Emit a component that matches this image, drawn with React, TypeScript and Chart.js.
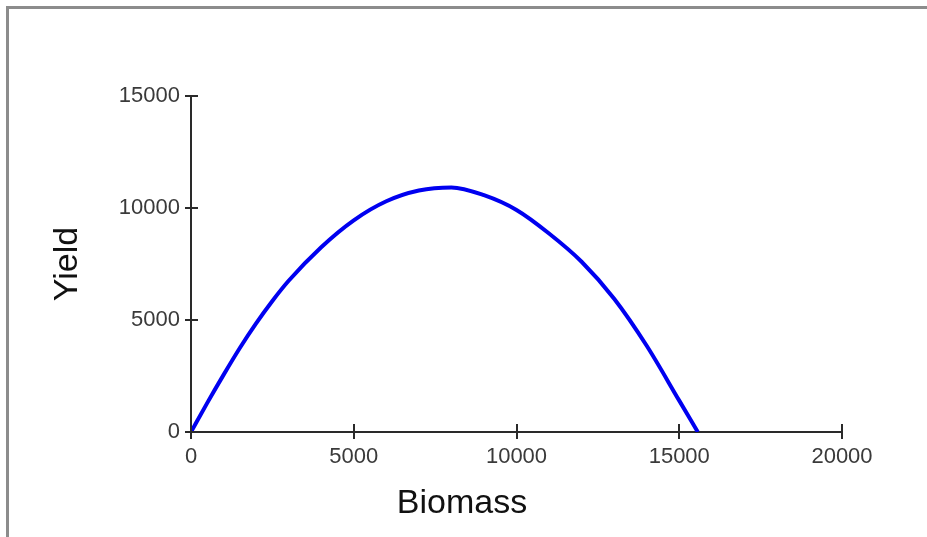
import React, { useEffect, useRef } from "react";
import { Chart, registerables } from "chart.js";

Chart.register(...registerables);

const biomass = [0, 500, 1000, 1500, 2000, 2500, 3000, 4000, 5000, 6000, 7000, 8000, 9000, 10000, 11000, 12000, 13000, 14000, 15000, 15570];
const yieldValues = [0, 1300, 2550, 3750, 4850, 5850, 6750, 8250, 9450, 10300, 10780, 10920, 10570, 9910, 8860, 7600, 5950, 3850, 1400, 0];
const xTicks = [0, 5000, 10000, 15000, 20000];
const yTicks = [0, 5000, 10000, 15000];
const xTitle = "Biomass";
const yTitle = "Yield";

const FONT = '"Liberation Sans", Arial, sans-serif';

const axisDecor = {
  id: "axisDecor",
  afterDraw(chart: any) {
    const { ctx } = chart;
    const x = chart.scales.x;
    const y = chart.scales.y;
    ctx.save();
    ctx.strokeStyle = "#2a2a2a";
    ctx.lineWidth = 2;
    ctx.beginPath();
    for (const v of xTicks) {
      const px = Math.round(x.getPixelForValue(v));
      ctx.moveTo(px, y.bottom - 8);
      ctx.lineTo(px, y.bottom + 7);
    }
    for (const v of yTicks) {
      const py = Math.round(y.getPixelForValue(v));
      ctx.moveTo(x.left - 6, py);
      ctx.lineTo(x.left + 7, py);
    }
    ctx.stroke();

    ctx.fillStyle = "#111";
    ctx.font = `34px ${FONT}`;
    ctx.textAlign = "center";
    ctx.textBaseline = "alphabetic";
    ctx.fillText(xTitle, x.left + 271, y.bottom + 81);

    ctx.translate(77, (y.top + y.bottom) / 2);
    ctx.rotate(-Math.PI / 2);
    ctx.fillText(yTitle, 0, 0);
    ctx.restore();
  },
};

export default function App() {
  const ref = useRef<HTMLCanvasElement | null>(null);

  useEffect(() => {
    if (!ref.current) return;
    const chart = new Chart(ref.current, {
      type: "line",
      data: {
        datasets: [
          {
            data: biomass.map((b, i) => ({ x: b, y: yieldValues[i] })),
            borderColor: "#0000f0",
            borderWidth: 4,
            pointRadius: 0,
            fill: false,
            cubicInterpolationMode: "monotone",
          },
        ],
      },
      options: {
        animation: false,
        responsive: true,
        maintainAspectRatio: false,
        layout: { padding: { left: 0, top: 96, right: 85, bottom: 0 } },
        plugins: { legend: { display: false }, tooltip: { enabled: false } },
        scales: {
          x: {
            type: "linear",
            min: 0,
            max: 20000,
            afterBuildTicks: (s: any) => {
              s.ticks = xTicks.map((v) => ({ value: v }));
            },
            afterFit: (s: any) => {
              s.height = 105;
            },
            grid: { display: false, drawTicks: false },
            border: { display: true, color: "#2a2a2a", width: 2 },
            ticks: {
              padding: 12,
              color: "#3a3a3a",
              font: { family: FONT, size: 22 },
              maxRotation: 0,
              callback: (v: any) => String(v),
            },
          },
          y: {
            type: "linear",
            min: 0,
            max: 15000,
            afterBuildTicks: (s: any) => {
              s.ticks = yTicks.map((v) => ({ value: v }));
            },
            afterFit: (s: any) => {
              s.width = 191;
            },
            grid: { display: false, drawTicks: false },
            border: { display: true, color: "#2a2a2a", width: 2 },
            ticks: {
              padding: 11,
              color: "#3a3a3a",
              font: { family: FONT, size: 22 },
              callback: (v: any) => String(v),
            },
          },
        },
      },
      plugins: [axisDecor],
    });
    return () => chart.destroy();
  }, []);

  return (
    <div style={{ position: "fixed", left: 0, top: 0, width: 927, height: 537, background: "#fff" }}>
      <div
        style={{
          position: "absolute",
          left: 6,
          top: 6,
          right: 0,
          bottom: 0,
          borderTop: "3px solid #8c8c8c",
          borderLeft: "3px solid #8c8c8c",
        }}
      />
      <div style={{ position: "absolute", left: 0, top: 0, width: 927, height: 537 }}>
        <canvas ref={ref} />
      </div>
    </div>
  );
}
